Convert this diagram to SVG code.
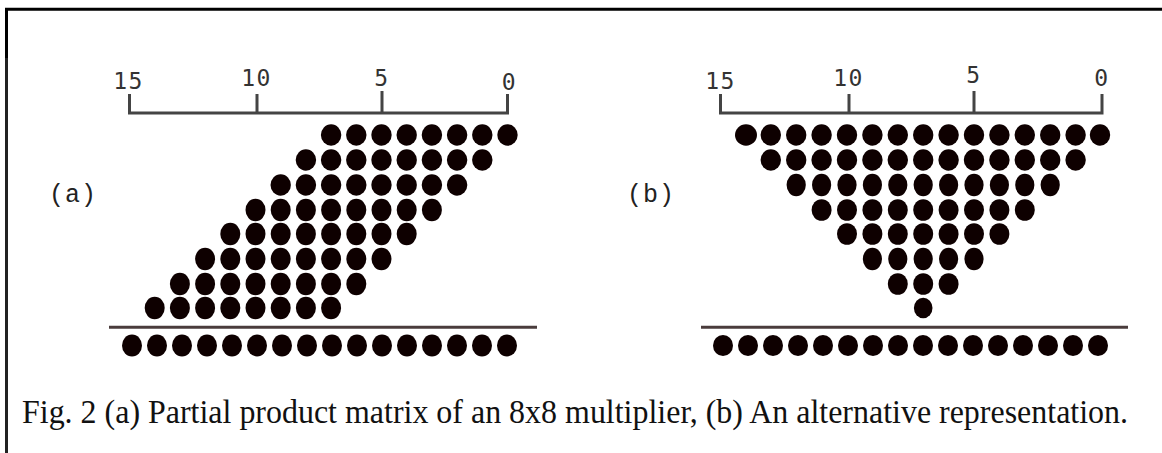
<svg xmlns="http://www.w3.org/2000/svg" width="1162" height="453" viewBox="0 0 1162 453">
<style>
.d{fill:#0e0000}
.b{fill:#0e0000}
.ax{stroke:#444;stroke-width:3;fill:none}
.sep{stroke:#4a3c3c;stroke-width:3}
.num{font-family:"DejaVu Sans Mono",monospace;font-size:23px;fill:#333;text-anchor:middle;letter-spacing:1.5px}
.lab{font-family:"Liberation Mono","Courier New",monospace;font-size:25px;fill:#222;letter-spacing:1px}
.cap{font-family:"Liberation Serif","Times New Roman",serif;font-size:30px;fill:#111}
</style>
<rect width="1162" height="453" fill="#fff"/>
<g id="frame">
<path d="M6.5 453 V9.3 H1162" stroke="#000" stroke-width="3" fill="none"/>
<line x1="6.5" y1="58" x2="6.5" y2="453" stroke="#222" stroke-width="3"/>
</g>
<g id="panel-a">
<g id="axis-a">
<path class="ax" d="M129.5 94 V113 H507.5 V94 M257 94 V113 M382 91 V113"/>
<text class="num" x="128.5" y="89">15</text>
<text class="num" x="256.5" y="86">10</text>
<text class="num" x="382" y="86">5</text>
<text class="num" x="509.5" y="90">0</text>
</g>
<text id="label-a" class="lab" x="49" y="202">(a)</text>
<g id="matrix-a">
<ellipse class="d" cx="507.5" cy="135" rx="10.2" ry="10.7"/><ellipse class="d" cx="482.3" cy="135" rx="10.2" ry="10.7"/><ellipse class="d" cx="457.1" cy="135" rx="10.2" ry="10.7"/><ellipse class="d" cx="431.9" cy="135" rx="10.2" ry="10.7"/><ellipse class="d" cx="406.7" cy="135" rx="10.2" ry="10.7"/><ellipse class="d" cx="381.5" cy="135" rx="10.2" ry="10.7"/><ellipse class="d" cx="356.3" cy="135" rx="10.2" ry="10.7"/><ellipse class="d" cx="331.1" cy="135" rx="10.2" ry="10.7"/>
<ellipse class="d" cx="482.3" cy="160" rx="10.2" ry="10.7"/><ellipse class="d" cx="457.1" cy="160" rx="10.2" ry="10.7"/><ellipse class="d" cx="431.9" cy="160" rx="10.2" ry="10.7"/><ellipse class="d" cx="406.7" cy="160" rx="10.2" ry="10.7"/><ellipse class="d" cx="381.5" cy="160" rx="10.2" ry="10.7"/><ellipse class="d" cx="356.3" cy="160" rx="10.2" ry="10.7"/><ellipse class="d" cx="331.1" cy="160" rx="10.2" ry="10.7"/><ellipse class="d" cx="305.9" cy="160" rx="10.2" ry="10.7"/>
<ellipse class="d" cx="457.1" cy="185" rx="10.2" ry="10.7"/><ellipse class="d" cx="431.9" cy="185" rx="10.2" ry="10.7"/><ellipse class="d" cx="406.7" cy="185" rx="10.2" ry="10.7"/><ellipse class="d" cx="381.5" cy="185" rx="10.2" ry="10.7"/><ellipse class="d" cx="356.3" cy="185" rx="10.2" ry="10.7"/><ellipse class="d" cx="331.1" cy="185" rx="10.2" ry="10.7"/><ellipse class="d" cx="305.9" cy="185" rx="10.2" ry="10.7"/><ellipse class="d" cx="280.7" cy="185" rx="10.2" ry="10.7"/>
<ellipse class="d" cx="431.9" cy="210" rx="10" ry="11.3"/><ellipse class="d" cx="406.7" cy="210" rx="10" ry="11.3"/><ellipse class="d" cx="381.5" cy="210" rx="10" ry="11.3"/><ellipse class="d" cx="356.3" cy="210" rx="10" ry="11.3"/><ellipse class="d" cx="331.1" cy="210" rx="10" ry="11.3"/><ellipse class="d" cx="305.9" cy="210" rx="10" ry="11.3"/><ellipse class="d" cx="280.7" cy="210" rx="10" ry="11.3"/><ellipse class="d" cx="255.5" cy="210" rx="10" ry="11.3"/>
<ellipse class="d" cx="406.7" cy="234" rx="10" ry="11.3"/><ellipse class="d" cx="381.5" cy="234" rx="10" ry="11.3"/><ellipse class="d" cx="356.3" cy="234" rx="10" ry="11.3"/><ellipse class="d" cx="331.1" cy="234" rx="10" ry="11.3"/><ellipse class="d" cx="305.9" cy="234" rx="10" ry="11.3"/><ellipse class="d" cx="280.7" cy="234" rx="10" ry="11.3"/><ellipse class="d" cx="255.5" cy="234" rx="10" ry="11.3"/><ellipse class="d" cx="230.3" cy="234" rx="10" ry="11.3"/>
<ellipse class="d" cx="381.5" cy="259" rx="10" ry="11.3"/><ellipse class="d" cx="356.3" cy="259" rx="10" ry="11.3"/><ellipse class="d" cx="331.1" cy="259" rx="10" ry="11.3"/><ellipse class="d" cx="305.9" cy="259" rx="10" ry="11.3"/><ellipse class="d" cx="280.7" cy="259" rx="10" ry="11.3"/><ellipse class="d" cx="255.5" cy="259" rx="10" ry="11.3"/><ellipse class="d" cx="230.3" cy="259" rx="10" ry="11.3"/><ellipse class="d" cx="205.1" cy="259" rx="10" ry="11.3"/>
<ellipse class="d" cx="356.3" cy="284" rx="10" ry="11.3"/><ellipse class="d" cx="331.1" cy="284" rx="10" ry="11.3"/><ellipse class="d" cx="305.9" cy="284" rx="10" ry="11.3"/><ellipse class="d" cx="280.7" cy="284" rx="10" ry="11.3"/><ellipse class="d" cx="255.5" cy="284" rx="10" ry="11.3"/><ellipse class="d" cx="230.3" cy="284" rx="10" ry="11.3"/><ellipse class="d" cx="205.1" cy="284" rx="10" ry="11.3"/><ellipse class="d" cx="179.9" cy="284" rx="10" ry="11.3"/>
<ellipse class="d" cx="331.1" cy="308" rx="10" ry="11.3"/><ellipse class="d" cx="305.9" cy="308" rx="10" ry="11.3"/><ellipse class="d" cx="280.7" cy="308" rx="10" ry="11.3"/><ellipse class="d" cx="255.5" cy="308" rx="10" ry="11.3"/><ellipse class="d" cx="230.3" cy="308" rx="10" ry="11.3"/><ellipse class="d" cx="205.1" cy="308" rx="10" ry="11.3"/><ellipse class="d" cx="179.9" cy="308" rx="10" ry="11.3"/><ellipse class="d" cx="154.7" cy="308" rx="10" ry="11.3"/>
</g>
<line class="sep" x1="109" y1="327.3" x2="537" y2="327.3"/>
<g id="result-a">
<ellipse class="b" cx="507" cy="345.5" rx="10" ry="11"/><ellipse class="b" cx="482" cy="345.5" rx="10" ry="11"/><ellipse class="b" cx="457" cy="345.5" rx="10" ry="11"/><ellipse class="b" cx="432" cy="345.5" rx="10" ry="11"/><ellipse class="b" cx="407" cy="345.5" rx="10" ry="11"/><ellipse class="b" cx="382" cy="345.5" rx="10" ry="11"/><ellipse class="b" cx="357" cy="345.5" rx="10" ry="11"/><ellipse class="b" cx="332" cy="345.5" rx="10" ry="11"/><ellipse class="b" cx="307" cy="345.5" rx="10" ry="11"/><ellipse class="b" cx="282" cy="345.5" rx="10" ry="11"/><ellipse class="b" cx="257" cy="345.5" rx="10" ry="11"/><ellipse class="b" cx="232" cy="345.5" rx="10" ry="11"/><ellipse class="b" cx="207" cy="345.5" rx="10" ry="11"/><ellipse class="b" cx="182" cy="345.5" rx="10" ry="11"/><ellipse class="b" cx="157" cy="345.5" rx="10" ry="11"/><ellipse class="b" cx="132" cy="345.5" rx="10" ry="11"/>
</g>
</g>
<g id="panel-b">
<g id="axis-b">
<path class="ax" d="M720.5 94 V113 H1102 V94 M849 94 V113 M974 91 V113"/>
<text class="num" x="720.5" y="89">15</text>
<text class="num" x="848.5" y="86">10</text>
<text class="num" x="974" y="83">5</text>
<text class="num" x="1102" y="86">0</text>
</g>
<text id="label-b" class="lab" x="627" y="202">(b)</text>
<g id="matrix-b">
<ellipse class="d" cx="1100" cy="135" rx="10.2" ry="10.7"/><ellipse class="d" cx="1075.6" cy="135" rx="10.2" ry="10.7"/><ellipse class="d" cx="1050.2" cy="135" rx="10.2" ry="10.7"/><ellipse class="d" cx="1024.8" cy="135" rx="10.2" ry="10.7"/><ellipse class="d" cx="999.4" cy="135" rx="10.2" ry="10.7"/><ellipse class="d" cx="974" cy="135" rx="10.2" ry="10.7"/><ellipse class="d" cx="948.6" cy="135" rx="10.2" ry="10.7"/><ellipse class="d" cx="923.2" cy="135" rx="10.2" ry="10.7"/><ellipse class="d" cx="897.8" cy="135" rx="10.2" ry="10.7"/><ellipse class="d" cx="872.4" cy="135" rx="10.2" ry="10.7"/><ellipse class="d" cx="847" cy="135" rx="10.2" ry="10.7"/><ellipse class="d" cx="821.6" cy="135" rx="10.2" ry="10.7"/><ellipse class="d" cx="796.2" cy="135" rx="10.2" ry="10.7"/><ellipse class="d" cx="770.8" cy="135" rx="10.2" ry="10.7"/><ellipse class="d" cx="746" cy="135" rx="11" ry="10.7"/>
<ellipse class="d" cx="1075.6" cy="160" rx="10.2" ry="10.7"/><ellipse class="d" cx="1050.2" cy="160" rx="10.2" ry="10.7"/><ellipse class="d" cx="1024.8" cy="160" rx="10.2" ry="10.7"/><ellipse class="d" cx="999.4" cy="160" rx="10.2" ry="10.7"/><ellipse class="d" cx="974" cy="160" rx="10.2" ry="10.7"/><ellipse class="d" cx="948.6" cy="160" rx="10.2" ry="10.7"/><ellipse class="d" cx="923.2" cy="160" rx="10.2" ry="10.7"/><ellipse class="d" cx="897.8" cy="160" rx="10.2" ry="10.7"/><ellipse class="d" cx="872.4" cy="160" rx="10.2" ry="10.7"/><ellipse class="d" cx="847" cy="160" rx="10.2" ry="10.7"/><ellipse class="d" cx="821.6" cy="160" rx="10.2" ry="10.7"/><ellipse class="d" cx="796.2" cy="160" rx="10.2" ry="10.7"/><ellipse class="d" cx="770.8" cy="160" rx="10.2" ry="10.7"/>
<ellipse class="d" cx="1050.2" cy="185" rx="9.6" ry="11.3"/><ellipse class="d" cx="1024.8" cy="185" rx="9.6" ry="11.3"/><ellipse class="d" cx="999.4" cy="185" rx="9.6" ry="11.3"/><ellipse class="d" cx="974" cy="185" rx="9.6" ry="11.3"/><ellipse class="d" cx="948.6" cy="185" rx="9.6" ry="11.3"/><ellipse class="d" cx="923.2" cy="185" rx="9.6" ry="11.3"/><ellipse class="d" cx="897.8" cy="185" rx="9.6" ry="11.3"/><ellipse class="d" cx="872.4" cy="185" rx="9.6" ry="11.3"/><ellipse class="d" cx="847" cy="185" rx="9.6" ry="11.3"/><ellipse class="d" cx="821.6" cy="185" rx="9.6" ry="11.3"/><ellipse class="d" cx="796.2" cy="185" rx="9.6" ry="11.3"/>
<ellipse class="d" cx="1024.8" cy="210" rx="10" ry="10.8"/><ellipse class="d" cx="999.4" cy="210" rx="10" ry="10.8"/><ellipse class="d" cx="974" cy="210" rx="10" ry="10.8"/><ellipse class="d" cx="948.6" cy="210" rx="10" ry="10.8"/><ellipse class="d" cx="923.2" cy="210" rx="10" ry="10.8"/><ellipse class="d" cx="897.8" cy="210" rx="10" ry="10.8"/><ellipse class="d" cx="872.4" cy="210" rx="10" ry="10.8"/><ellipse class="d" cx="847" cy="210" rx="10" ry="10.8"/><ellipse class="d" cx="821.6" cy="210" rx="10" ry="10.8"/>
<ellipse class="d" cx="999.4" cy="234" rx="10" ry="10.8"/><ellipse class="d" cx="974" cy="234" rx="10" ry="10.8"/><ellipse class="d" cx="948.6" cy="234" rx="10" ry="10.8"/><ellipse class="d" cx="923.2" cy="234" rx="10" ry="10.8"/><ellipse class="d" cx="897.8" cy="234" rx="10" ry="10.8"/><ellipse class="d" cx="872.4" cy="234" rx="10" ry="10.8"/><ellipse class="d" cx="847" cy="234" rx="10" ry="10.8"/>
<ellipse class="d" cx="974" cy="259" rx="9.6" ry="11.3"/><ellipse class="d" cx="948.6" cy="259" rx="9.6" ry="11.3"/><ellipse class="d" cx="923.2" cy="259" rx="9.6" ry="11.3"/><ellipse class="d" cx="897.8" cy="259" rx="9.6" ry="11.3"/><ellipse class="d" cx="872.4" cy="259" rx="9.6" ry="11.3"/>
<ellipse class="d" cx="948.6" cy="284" rx="10" ry="10.8"/><ellipse class="d" cx="923.2" cy="284" rx="10" ry="10.8"/><ellipse class="d" cx="897.8" cy="284" rx="10" ry="10.8"/>
<ellipse class="d" cx="923.2" cy="308" rx="9.3" ry="10.3"/>
</g>
<line class="sep" x1="701" y1="327.3" x2="1128" y2="327.3"/>
<g id="result-b">
<ellipse class="b" cx="1098" cy="345.5" rx="10" ry="10.5"/><ellipse class="b" cx="1073" cy="345.5" rx="10" ry="10.5"/><ellipse class="b" cx="1048" cy="345.5" rx="10" ry="10.5"/><ellipse class="b" cx="1023" cy="345.5" rx="10" ry="10.5"/><ellipse class="b" cx="998" cy="345.5" rx="10" ry="10.5"/><ellipse class="b" cx="973" cy="345.5" rx="10" ry="10.5"/><ellipse class="b" cx="948" cy="345.5" rx="10" ry="10.5"/><ellipse class="b" cx="923" cy="345.5" rx="10" ry="10.5"/><ellipse class="b" cx="898" cy="345.5" rx="10" ry="10.5"/><ellipse class="b" cx="873" cy="345.5" rx="10" ry="10.5"/><ellipse class="b" cx="848" cy="345.5" rx="10" ry="10.5"/><ellipse class="b" cx="823" cy="345.5" rx="10" ry="10.5"/><ellipse class="b" cx="798" cy="345.5" rx="10" ry="10.5"/><ellipse class="b" cx="773" cy="345.5" rx="10" ry="10.5"/><ellipse class="b" cx="748" cy="345.5" rx="10" ry="10.5"/><ellipse class="b" cx="723" cy="345.5" rx="10" ry="10.5"/>
</g>
</g>
<text id="caption" class="cap" transform="translate(22,423) scale(1,1.13)" x="0" y="0" textLength="1106" lengthAdjust="spacingAndGlyphs">Fig. 2 (a) Partial product matrix of an 8x8 multiplier, (b) An alternative representation.</text>
</svg>
